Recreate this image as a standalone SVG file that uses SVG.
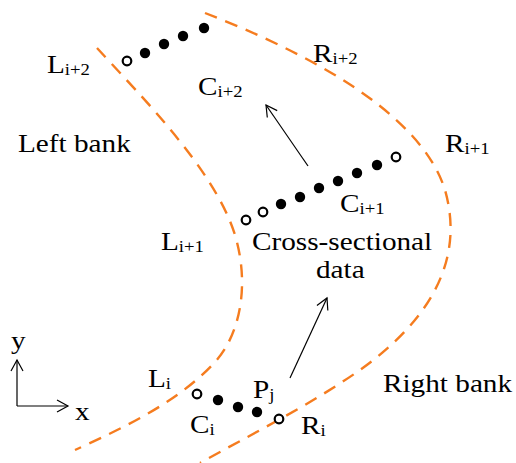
<svg xmlns="http://www.w3.org/2000/svg" width="516" height="463" viewBox="0 0 516 463">
<style>
.bank{fill:none;stroke:#f57c1f;stroke-width:2.4;stroke-dasharray:13 9}
.lbl{font-family:"Liberation Serif","Times New Roman",serif;font-size:25px;fill:#000}
.sub{font-size:16px}
.fd{fill:#000}
.od{fill:#fff;stroke:#000;stroke-width:2.2}
.ar{fill:none;stroke:#000;stroke-width:1.2}
</style>
<defs>
<marker id="oa" markerWidth="14" markerHeight="14" refX="12" refY="7" orient="auto" markerUnits="userSpaceOnUse">
<path d="M1,1 L12,7 L1,13" fill="none" stroke="#000" stroke-width="1.2"/>
</marker>
</defs>
<rect width="516" height="463" fill="#fff"/>
<g id="banks">
<path id="leftbank" class="bank" d="M97,48 C140,95 215,170 235,235 C250,285 240,335 215,362 C180,400 130,425 75,450"/>
<path id="rightbank" class="bank" d="M205,13 C300,50 420,110 445,190 C465,260 430,320 360,370 C310,405 250,435 200,463"/>
</g>
<g id="connectors">
<line class="ar" x1="308" y1="166" x2="266" y2="105" marker-end="url(#oa)"/>
<line class="ar" x1="290" y1="378" x2="327" y2="298" marker-end="url(#oa)"/>
<line class="ar" x1="17" y1="406" x2="17" y2="360" marker-end="url(#oa)"/>
<line class="ar" x1="17" y1="406" x2="68" y2="406" marker-end="url(#oa)"/>
</g>
<g id="section-i2">
<circle class="od" cx="127" cy="61" r="4.3"/>
<circle class="fd" cx="145" cy="53" r="5.2"/>
<circle class="fd" cx="164" cy="44" r="5.2"/>
<circle class="fd" cx="183" cy="36" r="5.2"/>
<circle class="fd" cx="204" cy="28" r="5.2"/>
</g>
<g id="section-i1">
<circle class="od" cx="246" cy="220" r="4.3"/>
<circle class="od" cx="263" cy="212" r="4.3"/>
<circle class="fd" cx="281" cy="204" r="5.2"/>
<circle class="fd" cx="300" cy="197" r="5.2"/>
<circle class="fd" cx="319" cy="188" r="5.2"/>
<circle class="fd" cx="338" cy="181" r="5.2"/>
<circle class="fd" cx="357" cy="173" r="5.2"/>
<circle class="fd" cx="377" cy="165" r="5.2"/>
<circle class="od" cx="396" cy="157" r="4.3"/>
</g>
<g id="section-i">
<circle class="od" cx="197" cy="394" r="4.3"/>
<circle class="fd" cx="218" cy="400" r="5.2"/>
<circle class="fd" cx="238" cy="407" r="5.2"/>
<circle class="fd" cx="257" cy="412" r="5.2"/>
<circle class="od" cx="279" cy="419" r="4.3"/>
</g>
<g id="labels">
<text class="lbl" transform="translate(18,152) scale(1.17,1)">Left bank</text>
<text class="lbl" transform="translate(383,392) scale(1.17,1)">Right bank</text>
<text class="lbl" transform="translate(252,250) scale(1.17,1)">Cross-sectional</text>
<text class="lbl" transform="translate(316,278) scale(1.17,1)">data</text>
<text class="lbl" transform="translate(47,73) scale(1.17,1)">L<tspan class="sub" dy="2">i+2</tspan></text>
<text class="lbl" transform="translate(198,95) scale(1.17,1)">C<tspan class="sub" dy="2">i+2</tspan></text>
<text class="lbl" transform="translate(313,62) scale(1.17,1)">R<tspan class="sub" dy="2">i+2</tspan></text>
<text class="lbl" transform="translate(445,152) scale(1.17,1)">R<tspan class="sub" dy="2">i+1</tspan></text>
<text class="lbl" transform="translate(340,212) scale(1.17,1)">C<tspan class="sub" dy="2">i+1</tspan></text>
<text class="lbl" transform="translate(161,250) scale(1.17,1)">L<tspan class="sub" dy="2">i+1</tspan></text>
<text class="lbl" transform="translate(148,387) scale(1.17,1)">L<tspan class="sub" dy="2">i</tspan></text>
<text class="lbl" transform="translate(253,398) scale(1.17,1)">P<tspan class="sub" dy="2">j</tspan></text>
<text class="lbl" transform="translate(190,433) scale(1.17,1)">C<tspan class="sub" dy="2">i</tspan></text>
<text class="lbl" transform="translate(301,434) scale(1.17,1)">R<tspan class="sub" dy="2">i</tspan></text>
<text class="lbl" transform="translate(11,349) scale(1.17,1)">y</text>
<text class="lbl" transform="translate(75,420) scale(1.17,1)">x</text>
</g>
</svg>
